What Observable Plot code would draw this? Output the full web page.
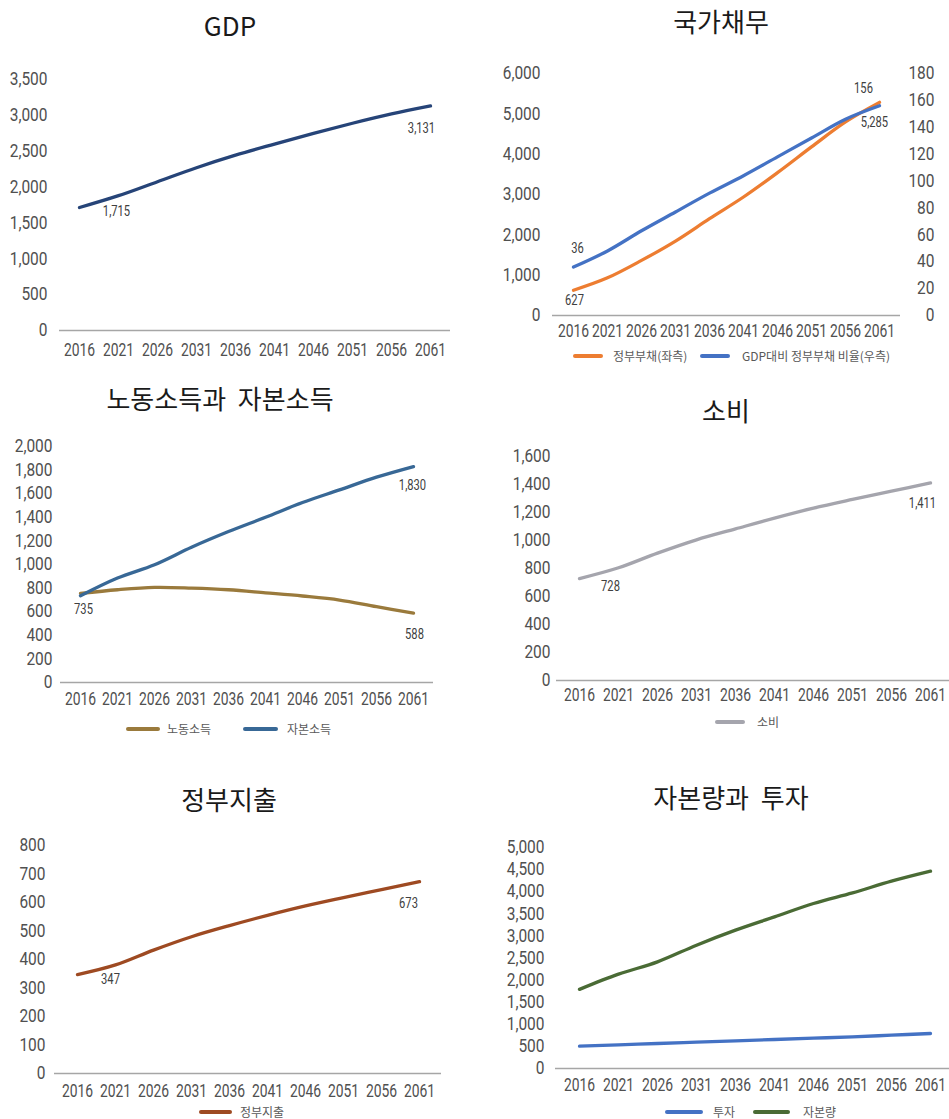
<!DOCTYPE html>
<html>
<head>
<meta charset="utf-8">
<script src="https://cdn.jsdelivr.net/npm/d3@7"></script>
<script src="https://cdn.jsdelivr.net/npm/@observablehq/plot@0.6"></script>
<style>
  body { margin: 0; background: #fff; }
  #page { position: relative; width: 949px; height: 1119px; overflow: hidden; background: #fff;
          font-family: "Noto Sans CJK KR", "Noto Sans", sans-serif; }
  #page svg { position: absolute; overflow: visible; }
  .title { position: absolute; transform: translate(-50%, -50%); font-size: 26px; color: #1a1a1a;
           white-space: nowrap; line-height: 1; word-spacing: 6px; }
  .swatch { position: absolute; height: 4px; border-radius: 2px; transform: translateY(-50%); }
  .legtext { position: absolute; transform: translateY(-50%); font-size: 12px; color: #595959;
             line-height: 1; white-space: nowrap; }
</style>
</head>
<body>
<div id="page"></div>
<script>
// Projection years (x categories)
const years = [2016, 2021, 2026, 2031, 2036, 2041, 2046, 2051, 2056, 2061];

// GDP
const gdp = [1715, 1880, 2075, 2270, 2445, 2600, 2750, 2890, 3020, 3131];
// 국가채무: 정부부채 (left axis) and GDP대비 정부부채 비율 (right axis, %)
const govDebt = [627, 935, 1366, 1846, 2400, 2938, 3542, 4180, 4800, 5285];
const debtRatio = [36, 48, 63, 77, 91, 104, 118, 132, 146, 156];
// 노동소득과 자본소득
const laborIncome = [755, 786, 806, 800, 786, 760, 733, 699, 642, 588];
const capitalIncome = [735, 885, 998, 1146, 1279, 1400, 1525, 1632, 1740, 1830];
// 소비
const consumption = [728, 805, 910, 1005, 1083, 1160, 1231, 1293, 1352, 1411];
// 정부지출
const govSpending = [347, 381, 433, 480, 519, 555, 588, 617, 645, 673];
// 자본량과 투자
const investment = [505, 535, 566, 596, 626, 656, 686, 716, 754, 792];
const capitalStock = [1790, 2134, 2413, 2790, 3130, 3431, 3733, 3974, 4238, 4464];

// Axis tick values
const gdpTicks = d3.range(0, 3501, 500);
const debtTicks = d3.range(0, 6001, 1000);
const ratioTicks = d3.range(0, 181, 20);
const incomeTicks = d3.range(0, 2001, 200);
const consTicks = d3.range(0, 1601, 200);
const spendTicks = d3.range(0, 801, 100);
const capTicks = d3.range(0, 5001, 500);

const page = document.getElementById("page");
const fmt = d3.format(",");
const tickFont = 'Roboto, "Liberation Sans", sans-serif';
const narrowX = 0.77; // horizontal squeeze for year labels and value labels
const narrowY = 0.86; // value-axis labels are set a little wider
const rows = (vals, k = 1) => years.map((year, i) => ({year, value: vals[i] * k}));

function valueLabel(year, value, text, dx, dy) {
  return Plot.text([{year, value, text}], {
    x: "year", y: "value", text: "text", dx, dy,
    fontSize: 14.5, fill: "#404040", fontFamily: tickFont
  });
}

// squeeze every text of a chart horizontally around its anchor point
function condense(svg) {
  svg.querySelectorAll("text").forEach(t => {
    const g = t.closest("g[aria-label]");
    const s = g && /y-axis/.test(g.getAttribute("aria-label")) ? narrowY : narrowX;
    const tr = t.getAttribute("transform");
    if (tr) {
      t.setAttribute("transform", tr + ` scale(${s},1)`);
    } else {
      const x = +(t.getAttribute("x") || 0);
      t.removeAttribute("x");
      t.setAttribute("transform", `translate(${x},0) scale(${s},1)`);
    }
  });
}

function panel(cfg) {
  const marks = [
    Plot.ruleY([0], {stroke: "#a6a6a6", strokeWidth: 1.4}),
    Plot.axisX({tickSize: 0, tickPadding: cfg.xPad, tickFormat: d => String(d), label: null}),
    Plot.axisY({ticks: cfg.yTicks, tickSize: 0, tickPadding: cfg.yPad, tickFormat: fmt, label: null}),
    ...(cfg.extraAxes || []),
    ...cfg.series.map(s => Plot.line(rows(s.values, s.k || 1), {
      x: "year", y: "value", stroke: s.color, strokeWidth: 3.3,
      curve: "catmull-rom", strokeLinecap: "round", strokeLinejoin: "round"
    })),
    ...(cfg.labels || [])
  ];
  const svg = Plot.plot({
    width: cfg.width, height: cfg.height,
    marginLeft: cfg.mL, marginRight: cfg.mR, marginTop: cfg.mT, marginBottom: cfg.mB,
    x: {type: "point", domain: years, padding: 0.5},
    y: {domain: cfg.yDomain},
    style: {fontFamily: tickFont, fontSize: "18px", color: "#505050", background: "transparent", overflow: "visible"},
    marks
  });
  condense(svg);
  svg.style.left = cfg.left + "px";
  svg.style.top = cfg.top + "px";
  page.appendChild(svg);
}

function title(text, cx, cy) {
  const d = document.createElement("div");
  d.className = "title";
  d.textContent = text;
  d.style.left = cx + "px";
  d.style.top = cy + "px";
  page.appendChild(d);
}

function legendItem(x1, x2, tx, y, color, label) {
  const s = document.createElement("div");
  s.className = "swatch";
  s.style.left = x1 + "px";
  s.style.width = (x2 - x1) + "px";
  s.style.top = y + "px";
  s.style.background = color;
  page.appendChild(s);
  const t = document.createElement("div");
  t.className = "legtext";
  t.textContent = label;
  t.style.left = tx + "px";
  t.style.top = y + "px";
  page.appendChild(t);
}

const C = {
  gdp: "#264478", debt: "#ED7D31", ratio: "#4472C4", labor: "#9A7A3C", capital: "#386896",
  cons: "#A5A5AD", spend: "#9E4A22", invest: "#4472C4", stock: "#4A6B35"
};

// GDP
title("GDP", 230, 25);
panel({
  left: 0, top: 50, width: 475, height: 320, mL: 59, mR: 25, mT: 29, mB: 40,
  yDomain: [0, 3500], yTicks: gdpTicks, xPad: 12.5, yPad: 12,
  series: [{values: gdp, color: C.gdp}],
  labels: [
    valueLabel(years[0], gdp[0], fmt(gdp[0]), 37, 4),
    valueLabel(years[9], gdp[9], fmt(gdp[9]), -9, 22)
  ]
});

// 국가채무 (dual axis: ratio mapped onto the debt scale)
const k = 6000 / 180;
title("국가채무", 721, 21);
panel({
  left: 475, top: 40, width: 474, height: 330, mL: 77, mR: 49, mT: 33, mB: 55,
  yDomain: [0, 6000], yTicks: debtTicks, xPad: 8.5, yPad: 12,
  extraAxes: [
    Plot.axisY({anchor: "right", ticks: ratioTicks.map(v => v * k), tickFormat: d => String(Math.round(d / k)),
                tickSize: 0, tickPadding: 34, textAnchor: "end", label: null})
  ],
  series: [{values: govDebt, color: C.debt}, {values: debtRatio, color: C.ratio, k}],
  labels: [
    valueLabel(years[0], debtRatio[0] * k, String(debtRatio[0]), 4, -19),
    valueLabel(years[0], govDebt[0], fmt(govDebt[0]), 1, 10),
    valueLabel(years[9], debtRatio[9] * k, String(debtRatio[9]), -16, -17),
    valueLabel(years[9], govDebt[9], fmt(govDebt[9]), -5, 20)
  ]
});
legendItem(573, 603, 613, 356, C.debt, "정부부채(좌측)");
legendItem(700, 730, 742, 356, C.ratio, "GDP대비 정부부채 비율(우측)");

// 노동소득과 자본소득
title("노동소득과 자본소득", 220, 398);
panel({
  left: 0, top: 420, width: 475, height: 300, mL: 60, mR: 42, mT: 26, mB: 38,
  yDomain: [0, 2000], yTicks: incomeTicks, xPad: 10, yPad: 8,
  series: [{values: laborIncome, color: C.labor}, {values: capitalIncome, color: C.capital}],
  labels: [
    valueLabel(years[0], capitalIncome[0], fmt(capitalIncome[0]), 3, 14),
    valueLabel(years[9], capitalIncome[9], fmt(capitalIncome[9]), -1, 19),
    valueLabel(years[9], laborIncome[9], fmt(laborIncome[9]), 1, 21)
  ]
});
legendItem(126, 160, 167, 729, C.labor, "노동소득");
legendItem(243, 278, 287, 729, C.capital, "자본소득");

// 소비
title("소비", 726, 410);
panel({
  left: 475, top: 430, width: 478, height: 280, mL: 81, mR: 0, mT: 26, mB: 30,
  yDomain: [0, 1600], yTicks: consTicks, xPad: 7.5, yPad: 6,
  series: [{values: consumption, color: C.cons}],
  labels: [
    valueLabel(years[0], consumption[0], fmt(consumption[0]), 31, 8),
    valueLabel(years[9], consumption[9], fmt(consumption[9]), -8, 20)
  ]
});
legendItem(715, 745, 757, 722, C.cons, "소비");

// 정부지출
title("정부지출", 229, 799);
panel({
  left: 0, top: 820, width: 475, height: 280, mL: 54, mR: 34, mT: 25, mB: 27,
  yDomain: [0, 800], yTicks: spendTicks, xPad: 10.5, yPad: 9,
  series: [{values: govSpending, color: C.spend}],
  labels: [
    valueLabel(years[0], govSpending[0], fmt(govSpending[0]), 33, 5),
    valueLabel(years[9], govSpending[9], fmt(govSpending[9]), -11, 22)
  ]
});
legendItem(199, 232, 240, 1112, C.spend, "정부지출");

// 자본량과 투자
title("자본량과 투자", 731, 797);
panel({
  left: 475, top: 820, width: 478, height: 275, mL: 80, mR: 0, mT: 27, mB: 27,
  yDomain: [0, 5000], yTicks: capTicks, xPad: 9.5, yPad: 11,
  series: [{values: investment, color: C.invest}, {values: capitalStock, color: C.stock}]
});
legendItem(665, 703, 713, 1112, C.invest, "투자");
legendItem(753, 790, 803, 1112, C.stock, "자본량");
</script>
</body>
</html>
